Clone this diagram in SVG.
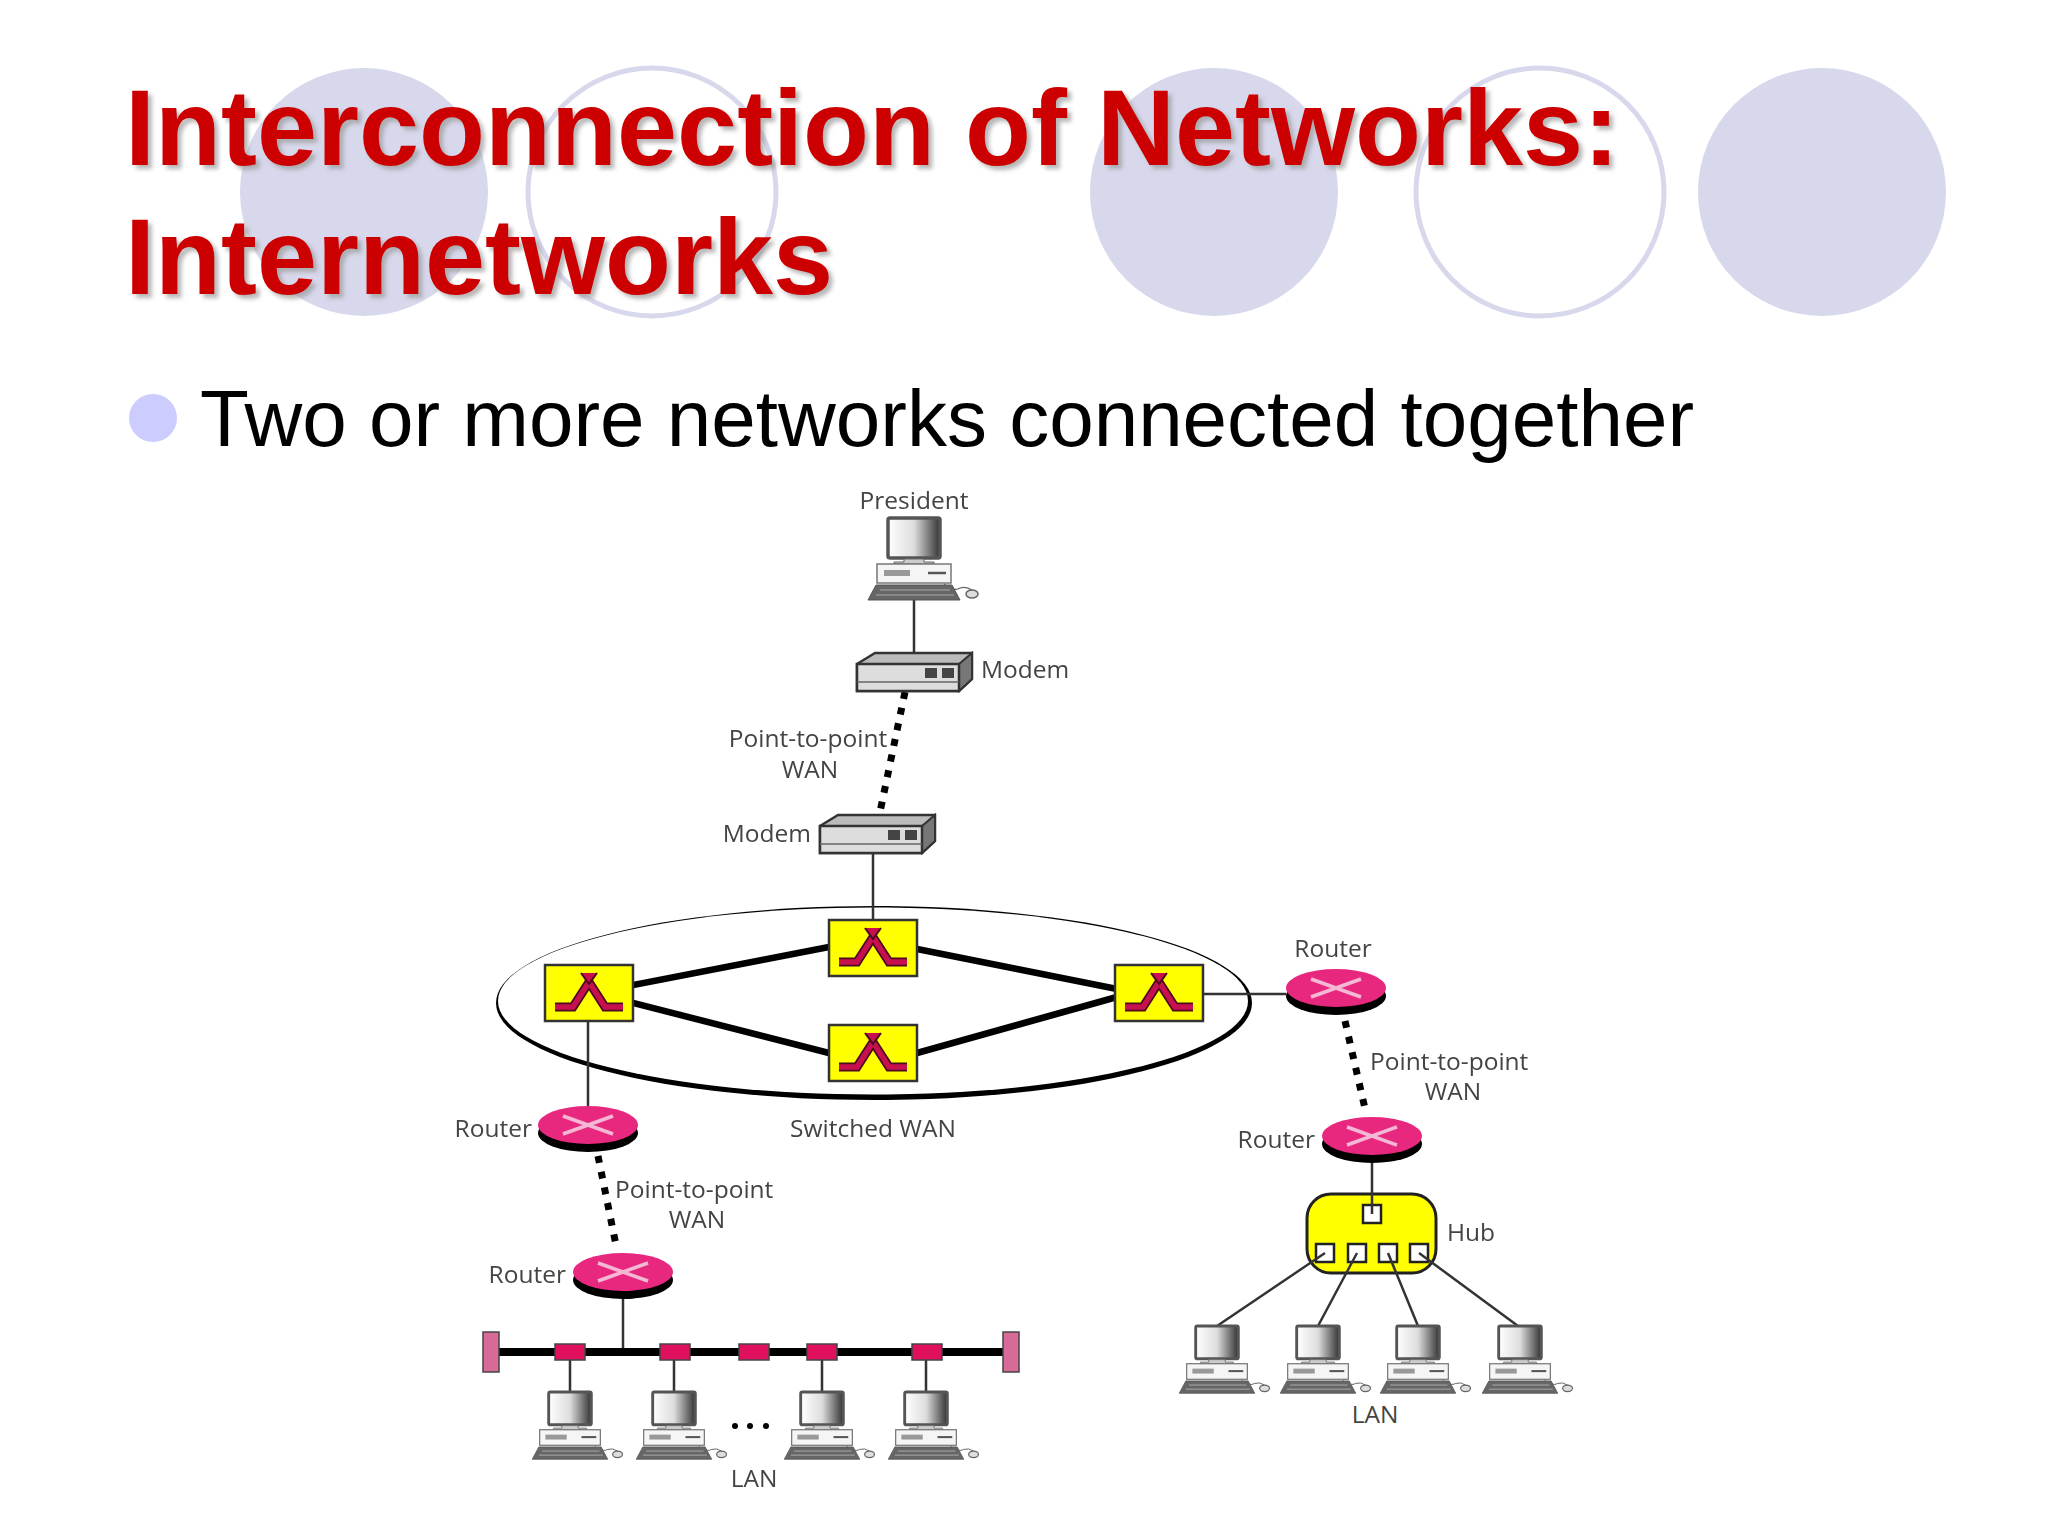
<svg xmlns="http://www.w3.org/2000/svg" width="2048" height="1536" viewBox="0 0 2048 1536">
<style>
.t{font-family:"Liberation Sans",Arial,sans-serif;font-weight:bold;font-size:108px;fill:#CC0000}
.ts{font-family:"Liberation Sans",Arial,sans-serif;font-weight:bold;font-size:108px;fill:#999;opacity:.7}
.b{font-family:"Liberation Sans",Arial,sans-serif;font-size:80px;fill:#000}
.l{font-family:"Open Sans","Noto Sans",sans-serif;font-size:24.5px;fill:#444}
.m{text-anchor:middle}.e{text-anchor:end}
.c{fill:#D8D8EC}.r{fill:none;stroke:#D8D8EC;stroke-width:5}
.thin{stroke:#333;stroke-width:2.5;fill:none}
.thick{stroke:#000;stroke-width:6.5;fill:none}
.dot{stroke:#000;stroke-width:7;stroke-dasharray:7 9;fill:none}
.port{fill:#fff;stroke:#222;stroke-width:2.5}
</style>
<defs>
<filter id="soft" x="-5%" y="-20%" width="110%" height="140%"><feGaussianBlur stdDeviation="2"/></filter>
<linearGradient id="scr" x1="0" x2="1"><stop offset="0" stop-color="#fff"/><stop offset=".5" stop-color="#ddd"/><stop offset="1" stop-color="#333"/></linearGradient>
<g id="pc">
<rect x="-26" y="0" width="52" height="40" rx="2" fill="url(#scr)" stroke="#555" stroke-width="3.5"/>
<path d="M-10 41h20v3h10v2h-40v-2h10z" fill="#ccc" stroke="#666"/>
<rect x="-37" y="46" width="74" height="19" fill="#f5f5f5" stroke="#777" stroke-width="1.5"/>
<rect x="-30" y="52" width="26" height="6" fill="#999"/>
<path d="M14 55h18" stroke="#555" stroke-width="2.5"/>
<path d="M-38 67H38L46 82H-46z" fill="#666" stroke="#555"/>
<path d="M-34 72H36M-38 77H40" stroke="#aaa" stroke-width="1.2"/>
<path d="M30 66q10 8 16 4q6-2 12 2" fill="none" stroke="#666" stroke-width="1.2"/>
<ellipse cx="58" cy="76" rx="6" ry="4" fill="#ddd" stroke="#666" stroke-width="1.5"/>
</g>
<g id="modem">
<path d="M0 11L18 0H115V26L102 38H0z" fill="#bbb" stroke="#333" stroke-width="2.5"/>
<path d="M102 11L115 0V26L102 38z" fill="#777" stroke="#333" stroke-width="2"/>
<rect x="0" y="11" width="102" height="27" fill="#ddd" stroke="#333" stroke-width="2.5"/>
<path d="M0 29H102" stroke="#666" stroke-width="1.5"/>
<rect x="68" y="15" width="12" height="10" fill="#444"/><rect x="85" y="15" width="12" height="10" fill="#444"/>
</g>
<g id="sw">
<rect x="-44" y="-28" width="88" height="56" fill="#FFFF00" stroke="#333" stroke-width="2.5"/>
<path d="M-34 14H-16L0 -11L16 14H34" fill="none" stroke="#4a0a20" stroke-width="9"/>
<path d="M-34 14H-16L0 -11L16 14H34" fill="none" stroke="#C8104F" stroke-width="5.5"/>
<path d="M-8 -20L0 -9L8 -20" fill="#C8104F" stroke="#4a0a20" stroke-width="2"/>
</g>
<g id="rt">
<ellipse cx="0" cy="8" rx="50" ry="19" fill="#000"/>
<ellipse cx="0" cy="0" rx="50" ry="19" fill="#E8287F"/>
<path d="M-25 -9L25 9M-25 9L25 -9" stroke="#F4B8D4" stroke-width="3.5"/>
</g>
<g id="tap"><rect x="-15" y="-8" width="30" height="16" fill="#E0105F" stroke="#444" stroke-width="1.5"/></g>
</defs>
<rect width="2048" height="1536" fill="#fff"/>
<g id="decor">
<circle class="c" cx="364" cy="192" r="124"/><circle class="r" cx="652" cy="192" r="124"/>
<circle class="c" cx="1214" cy="192" r="124"/><circle class="r" cx="1540" cy="192" r="124"/>
<circle class="c" cx="1822" cy="192" r="124"/>
</g>
<g id="title">
<g filter="url(#soft)"><text class="ts" x="129" y="169">Interconnection of Networks:</text>
<text class="ts" x="129" y="298">Internetworks</text></g>
<text class="t" x="125" y="165">Interconnection of Networks:</text>
<text class="t" x="125" y="294">Internetworks</text>
</g>
<g id="bullet"><circle cx="153" cy="418" r="24" fill="#CCCCFF"/>
<text class="b" x="200" y="446">Two or more networks connected together</text></g>
<g id="switched-wan">
<ellipse cx="874" cy="1003" rx="378" ry="97" fill="#000"/>
<ellipse cx="873" cy="1001" rx="375" ry="93.5" fill="#fff"/>
<text class="l m" x="873" y="1137">Switched WAN</text>
</g>
<g id="hub"><rect x="1307" y="1194" width="129" height="79" rx="24" fill="#FFFF00" stroke="#222" stroke-width="3"/>
<rect class="port" x="1363" y="1205" width="18" height="18"/>
<rect class="port" x="1316" y="1244" width="18" height="18"/><rect class="port" x="1348" y="1244" width="18" height="18"/>
<rect class="port" x="1379" y="1244" width="18" height="18"/><rect class="port" x="1410" y="1244" width="18" height="18"/>
<text class="l" x="1447" y="1241">Hub</text></g>
<g id="connectors">
<path class="thin" d="M914 600V655M873 851V920M588 1021V1106M1203 994H1286M623 1299V1352M1372 1163V1214"/>
<path class="thin" d="M1325 1253L1217 1326M1357 1253L1318 1326M1388 1253L1418 1326M1419 1253L1518 1326"/>
<path class="thin" d="M570 1360V1392M674 1360V1392M822 1360V1392M926 1360V1392"/>
<path class="thick" d="M633 985L829 947M633 1003L829 1053M917 949L1117 989M917 1053L1117 997"/>
<path class="dot" d="M905 692L880 812M598 1156L617 1250M1345 1021L1366 1113"/>
<path d="M499 1352H1003" stroke="#000" stroke-width="8"/>
</g>
<g id="president"><use href="#pc" x="914" y="518"/><text class="l m" x="914" y="509">President</text></g>
<g id="modem1"><use href="#modem" x="857" y="653"/><text class="l" x="981" y="678">Modem</text></g>
<g id="modem2"><use href="#modem" x="820" y="815"/><text class="l e" x="811" y="842">Modem</text></g>
<g id="label-p2p-top"><text class="l m" x="808" y="747">Point-to-point</text><text class="l m" x="810" y="778">WAN</text></g>
<g id="sw-left"><use href="#sw" x="589" y="993"/></g>
<g id="sw-top"><use href="#sw" x="873" y="948"/></g>
<g id="sw-bottom"><use href="#sw" x="873" y="1053"/></g>
<g id="sw-right"><use href="#sw" x="1159" y="993"/></g>
<g id="router-left"><use href="#rt" x="588" y="1125"/><text class="l e" x="532" y="1137">Router</text></g>
<g id="router-bottom"><use href="#rt" x="623" y="1272"/><text class="l e" x="566" y="1283">Router</text></g>
<g id="router-right"><use href="#rt" x="1336" y="988"/><text class="l m" x="1333" y="957">Router</text></g>
<g id="router-hub"><use href="#rt" x="1372" y="1136"/><text class="l e" x="1315" y="1148">Router</text></g>
<g id="label-p2p-left"><text class="l" x="615" y="1198">Point-to-point</text><text class="l m" x="697" y="1228">WAN</text></g>
<g id="label-p2p-right"><text class="l" x="1370" y="1070">Point-to-point</text><text class="l m" x="1453" y="1100">WAN</text></g>
<g id="bus">
<rect x="483" y="1332" width="16" height="40" fill="#D86A98" stroke="#444" stroke-width="1.5"/>
<rect x="1003" y="1332" width="16" height="40" fill="#D86A98" stroke="#444" stroke-width="1.5"/>
<use href="#tap" x="570" y="1352"/><use href="#tap" x="675" y="1352"/><use href="#tap" x="754" y="1352"/><use href="#tap" x="822" y="1352"/><use href="#tap" x="927" y="1352"/>
</g>
<g id="lan-bottom">
<use href="#pc" transform="translate(570 1392) scale(.82)"/><use href="#pc" transform="translate(674 1392) scale(.82)"/>
<use href="#pc" transform="translate(822 1392) scale(.82)"/><use href="#pc" transform="translate(926 1392) scale(.82)"/>
<circle cx="735" cy="1426" r="3"/><circle cx="750" cy="1426" r="3"/><circle cx="766" cy="1426" r="3"/>
<text class="l m" x="754" y="1487">LAN</text>
</g>
<g id="lan-right">
<use href="#pc" transform="translate(1217 1326) scale(.82)"/><use href="#pc" transform="translate(1318 1326) scale(.82)"/>
<use href="#pc" transform="translate(1418 1326) scale(.82)"/><use href="#pc" transform="translate(1520 1326) scale(.82)"/>
<text class="l m" x="1375" y="1423">LAN</text>
</g>
</svg>
